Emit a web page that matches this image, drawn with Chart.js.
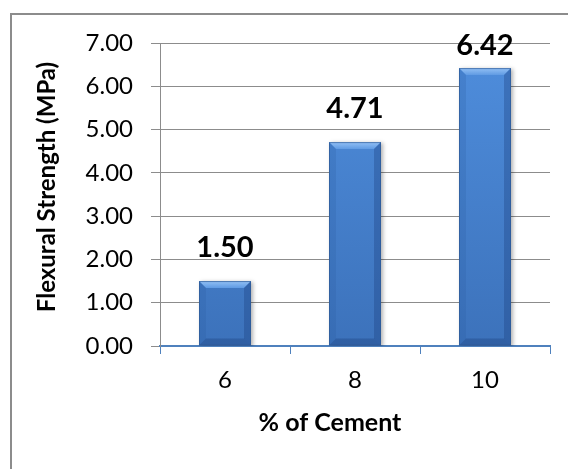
<!DOCTYPE html>
<html>
<head>
<meta charset="utf-8">
<script src="https://cdn.jsdelivr.net/npm/chart.js@4.4.1/dist/chart.umd.min.js"></script>
<style>
  html, body { margin: 0; padding: 0; background: #ffffff; }
  #wrap { width: 568px; height: 469px; position: relative; }
</style>
</head>
<body>
<div id="wrap"><canvas id="c" width="568" height="469"></canvas></div>
<script>
// Flexural strength by cement content
const categories = ['6', '8', '10'];
const strength = [1.50, 4.71, 6.42];
const yTicks = [0, 1, 2, 3, 4, 5, 6, 7];
const xTitle = '% of Cement';
const yTitle = 'Flexural Strength (MPa)';

const FONT = 'Lato, "Open Sans", sans-serif';

// Grey frame around the chart
const framePlugin = {
  id: 'frame',
  beforeDraw(chart) {
    const ctx = chart.ctx;
    ctx.save();
    ctx.strokeStyle = '#8c8c8c';
    ctx.lineWidth = 2;
    ctx.beginPath();
    ctx.moveTo(11, chart.height);
    ctx.lineTo(11, 14);
    ctx.lineTo(chart.width, 14);
    ctx.stroke();
    ctx.restore();
  }
};

// Axis titles, placed relative to the whole chart
const titlesPlugin = {
  id: 'axisTitles',
  afterDraw(chart) {
    const ctx = chart.ctx;
    ctx.save();
    ctx.fillStyle = '#000000';
    ctx.textAlign = 'center';
    ctx.textBaseline = 'middle';
    ctx.font = 'bold 25px ' + FONT;
    ctx.fillText(xTitle, 330, 423);
    ctx.translate(47, 187);
    ctx.rotate(-Math.PI / 2);
    ctx.font = 'bold 24px ' + FONT;
    ctx.fillText(yTitle, 0, 0);
    ctx.restore();
  }
};

// Soft drop shadow under the bars
const shadowPlugin = {
  id: 'barShadow',
  beforeDatasetsDraw(chart) {
    const ctx = chart.ctx;
    ctx.save();
    ctx.shadowColor = 'rgba(0,0,0,0.3)';
    ctx.shadowBlur = 4;
    ctx.shadowOffsetX = 2;
    ctx.shadowOffsetY = 1;
  },
  afterDatasetsDraw(chart) {
    chart.ctx.restore();
  }
};

// Bevelled edges and value labels on top of each bar
const bevelPlugin = {
  id: 'bevel',
  afterDatasetsDraw(chart) {
    const ctx = chart.ctx;
    const meta = chart.getDatasetMeta(0);
    const data = chart.data.datasets[0].data;
    meta.data.forEach((bar, i) => {
      const { x, y, base, width } = bar.getProps(['x', 'y', 'base', 'width'], true);
      const l = x - width / 2, r = x + width / 2;
      const b = Math.min(7, (base - y) / 3);
      ctx.save();
      // top face
      let g = ctx.createLinearGradient(0, y, 0, y + b);
      g.addColorStop(0, '#93c1f5');
      g.addColorStop(1, '#5f9ae3');
      ctx.fillStyle = g;
      ctx.beginPath();
      ctx.moveTo(l, y); ctx.lineTo(r, y); ctx.lineTo(r - b, y + b); ctx.lineTo(l + b, y + b);
      ctx.closePath(); ctx.fill();
      // left edge
      ctx.fillStyle = 'rgba(40,90,160,0.22)';
      ctx.beginPath();
      ctx.moveTo(l, y); ctx.lineTo(l + b, y + b); ctx.lineTo(l + b, base - b); ctx.lineTo(l, base);
      ctx.closePath(); ctx.fill();
      // right edge
      ctx.fillStyle = 'rgba(25,60,120,0.32)';
      ctx.beginPath();
      ctx.moveTo(r, y); ctx.lineTo(r - b, y + b); ctx.lineTo(r - b, base - b); ctx.lineTo(r, base);
      ctx.closePath(); ctx.fill();
      // bottom edge
      ctx.fillStyle = 'rgba(25,60,120,0.35)';
      ctx.beginPath();
      ctx.moveTo(l, base); ctx.lineTo(r, base); ctx.lineTo(r - b, base - b); ctx.lineTo(l + b, base - b);
      ctx.closePath(); ctx.fill();
      // outline
      ctx.strokeStyle = 'rgba(45,90,150,0.7)';
      ctx.lineWidth = 1;
      ctx.strokeRect(l + 0.5, y + 0.5, width - 1, base - y - 1);
      ctx.restore();

      // value label
      ctx.save();
      ctx.font = 'bold 29px ' + FONT;
      ctx.fillStyle = '#000000';
      ctx.textAlign = 'center';
      ctx.textBaseline = 'middle';
      const cy = Math.max(y - 33, chart.chartArea.top + 3);
      ctx.fillText(data[i].toFixed(2), x, cy);
      ctx.restore();
    });
  }
};

new Chart(document.getElementById('c'), {
  type: 'bar',
  data: {
    labels: categories,
    datasets: [{
      data: strength,
      backgroundColor(ctx) {
        const area = ctx.chart.chartArea;
        if (!area) return '#4a86d4';
        const g = ctx.chart.ctx.createLinearGradient(0, area.top, 0, area.bottom);
        g.addColorStop(0, '#4f8edd');
        g.addColorStop(1, '#3c72bb');
        return g;
      },
      borderWidth: 0,
      barPercentage: 0.4,
      categoryPercentage: 1.0
    }]
  },
  options: {
    responsive: false,
    animation: false,
    devicePixelRatio: 1,
    layout: { padding: { left: 0, top: 43, right: 18, bottom: 0 } },
    plugins: {
      legend: { display: false },
      tooltip: { enabled: false }
    },
    scales: {
      x: {
        grid: {
          offset: true,
          drawOnChartArea: false,
          drawTicks: true,
          tickLength: 8,
          color: '#4f81bd',
          lineWidth: 1
        },
        border: { color: '#4f81bd', width: 2 },
        ticks: {
          color: '#000000',
          padding: 12,
          font: { family: FONT, size: 24 }
        },
        afterFit(scale) { scale.height = 123; }
      },
      y: {
        min: 0,
        max: 7,
        afterBuildTicks(scale) { scale.ticks = yTicks.map(v => ({ value: v })); },
        grid: {
          color: '#8c8c8c',
          lineWidth: 1,
          tickLength: 9
        },
        border: { color: '#8c8c8c', width: 1 },
        ticks: {
          color: '#000000',
          padding: 18,
          font: { family: FONT, size: 24 },
          callback: (v) => Number(v).toFixed(2)
        },
        afterFit(scale) { scale.width = 160; }
      }
    }
  },
  plugins: [framePlugin, shadowPlugin, bevelPlugin, titlesPlugin]
});
</script>
</body>
</html>
